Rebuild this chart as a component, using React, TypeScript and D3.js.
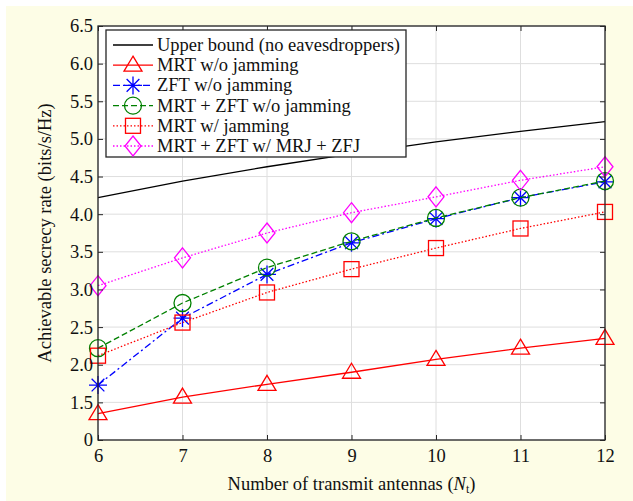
import * as d3 from 'd3'
import { useEffect, useRef } from 'react'

// data
const antennas = [6, 7, 8, 9, 10, 11, 12]
const upperBound = [4.22, 4.44, 4.63, 4.8, 4.96, 5.1, 5.23]
const mrtNoJam = [1.35, 1.57, 1.74, 1.9, 2.07, 2.22, 2.35]
const zftNoJam = [1.73, 2.62, 3.2, 3.62, 3.94, 4.22, 4.43]
const mrtZftNoJam = [2.22, 2.82, 3.29, 3.64, 3.95, 4.22, 4.44]
const mrtJam = [2.12, 2.56, 2.96, 3.27, 3.55, 3.81, 4.03]
const mrtZftJam = [3.05, 3.42, 3.75, 4.02, 4.23, 4.45, 4.63]

const yTickValues = [1, 1.5, 2, 2.5, 3, 3.5, 4, 4.5, 5, 5.5, 6, 6.5]
const yTickLabels = ['0', '1.5', '2.0', '2.5', '3.0', '3.5', '4.0', '4.5', '5.0', '5.5', '6.0', '6.5']

type Marker = 'none' | 'triangle' | 'star' | 'circle' | 'square' | 'diamond'

const series: { name: string; values: number[]; color: string; dash: string; marker: Marker }[] = [
  { name: 'Upper bound (no eavesdroppers)', values: upperBound, color: '#000000', dash: '', marker: 'none' },
  { name: 'MRT w/o jamming', values: mrtNoJam, color: '#ff0000', dash: '', marker: 'triangle' },
  { name: 'ZFT w/o jamming', values: zftNoJam, color: '#0000ff', dash: '7,3,2,3', marker: 'star' },
  { name: 'MRT + ZFT w/o jamming', values: mrtZftNoJam, color: '#008000', dash: '6,3', marker: 'circle' },
  { name: 'MRT w/ jamming', values: mrtJam, color: '#ff0000', dash: '1.5,2', marker: 'square' },
  { name: 'MRT + ZFT w/ MRJ + ZFJ', values: mrtZftJam, color: '#ff00ff', dash: '1.5,2', marker: 'diamond' },
]

const W = 633
const H = 501
const margin = { top: 26, left: 98, right: 28, bottom: 61 }
const font = 'Liberation Serif, Times New Roman, serif'
const fs = 18.5

function drawMarker(g: d3.Selection<SVGGElement, unknown, null, undefined>, type: Marker, x: number, y: number, color: string) {
  const m = g.append('g').attr('transform', `translate(${x},${y})`).attr('fill', 'none').attr('stroke', color).attr('stroke-width', 1.3)
  if (type === 'triangle') m.append('path').attr('d', 'M0,-9 L9,6 L-9,6 Z')
  if (type === 'circle') m.append('circle').attr('r', 8.5)
  if (type === 'square') m.append('rect').attr('x', -7.5).attr('y', -7.5).attr('width', 15).attr('height', 15)
  if (type === 'diamond') m.append('path').attr('d', 'M0,-10 L8,0 L0,10 L-8,0 Z')
  if (type === 'star') {
    const r = 9
    const d = r * 0.707
    m.append('path').attr('d', `M${-r},0L${r},0M0,${-r}L0,${r}M${-d},${-d}L${d},${d}M${-d},${d}L${d},${-d}`)
  }
}

export default function App() {
  const ref = useRef<SVGSVGElement>(null)

  useEffect(() => {
    const svg = d3.select(ref.current)
    svg.selectAll('*').remove()

    const iw = W - margin.left - margin.right
    const ih = H - margin.top - margin.bottom

    svg.append('rect').attr('x', 6).attr('y', 6).attr('width', W - 6).attr('height', H - 6).attr('fill', '#fdfde6')

    const x = d3.scaleLinear().domain([6, 12]).range([margin.left, margin.left + iw])
    const y = d3.scaleLinear().domain([1, 6.5]).range([margin.top + ih, margin.top])

    // plot area
    svg.append('rect').attr('x', margin.left).attr('y', margin.top).attr('width', iw).attr('height', ih).attr('fill', '#ffffff')

    // grid
    const grid = svg.append('g').attr('stroke', '#dedede').attr('stroke-width', 1)
    antennas.forEach((a) => {
      grid.append('line').attr('x1', x(a)).attr('x2', x(a)).attr('y1', margin.top).attr('y2', margin.top + ih)
    })
    yTickValues.forEach((v) => {
      grid.append('line').attr('x1', margin.left).attr('x2', margin.left + iw).attr('y1', y(v)).attr('y2', y(v))
    })

    // lines + markers
    const line = d3
      .line<number>()
      .x((_, i) => x(antennas[i]))
      .y((d) => y(d))

    series.forEach((s) => {
      svg
        .append('path')
        .datum(s.values)
        .attr('d', line)
        .attr('fill', 'none')
        .attr('stroke', s.color)
        .attr('stroke-width', 1.3)
        .attr('stroke-dasharray', s.dash || null)
      if (s.marker !== 'none') {
        const mg = svg.append('g')
        s.values.forEach((v, i) => drawMarker(mg, s.marker, x(antennas[i]), y(v), s.color))
      }
    })

    // axes box
    svg
      .append('rect')
      .attr('x', margin.left)
      .attr('y', margin.top)
      .attr('width', iw)
      .attr('height', ih)
      .attr('fill', 'none')
      .attr('stroke', '#262626')
      .attr('stroke-width', 1.3)

    const xAxis = d3.axisBottom(x).tickValues(antennas).tickSize(-5).tickPadding(9).tickFormat(d3.format('d'))
    const gx = svg.append('g').attr('transform', `translate(0,${margin.top + ih})`).call(xAxis)
    gx.select('.domain').remove()
    gx.selectAll('text').attr('font-family', font).attr('font-size', fs).attr('fill', '#111')
    gx.selectAll('line').attr('stroke', '#262626')

    const xTop = d3.axisTop(x).tickValues(antennas).tickSize(-5).tickFormat(() => '')
    const gxt = svg.append('g').attr('transform', `translate(0,${margin.top})`).call(xTop)
    gxt.select('.domain').remove()
    gxt.selectAll('line').attr('stroke', '#262626')

    const yAxis = d3
      .axisLeft(y)
      .tickValues(yTickValues)
      .tickSize(-5)
      .tickPadding(5)
      .tickFormat((_, i) => yTickLabels[i])
    const gy = svg.append('g').attr('transform', `translate(${margin.left},0)`).call(yAxis)
    gy.select('.domain').remove()
    gy.selectAll('text').attr('font-family', font).attr('font-size', fs).attr('fill', '#111')
    gy.selectAll('line').attr('stroke', '#262626')

    const yRight = d3.axisRight(y).tickValues(yTickValues).tickSize(-5).tickFormat(() => '')
    const gyr = svg.append('g').attr('transform', `translate(${margin.left + iw},0)`).call(yRight)
    gyr.select('.domain').remove()
    gyr.selectAll('line').attr('stroke', '#262626')

    // axis titles
    const xt = svg
      .append('text')
      .attr('x', margin.left + iw / 2)
      .attr('y', 490)
      .attr('text-anchor', 'middle')
      .attr('font-family', font)
      .attr('font-size', fs)
      .attr('fill', '#111')
    xt.append('tspan').text('Number of transmit antennas (')
    xt.append('tspan').attr('font-style', 'italic').text('N')
    xt.append('tspan').attr('font-size', 12).attr('dy', 3).text('t')
    xt.append('tspan').attr('dy', -3).text(')')

    svg
      .append('text')
      .attr('transform', `translate(51,${margin.top + ih / 2}) rotate(-90)`)
      .attr('text-anchor', 'middle')
      .attr('font-family', font)
      .attr('font-size', fs)
      .attr('fill', '#111')
      .text('Achievable secrecy rate (bits/s/Hz)')

    // legend
    const lg = svg.append('g')
    lg.append('rect')
      .attr('x', 106)
      .attr('y', 30)
      .attr('width', 300)
      .attr('height', 127)
      .attr('fill', '#ffffff')
      .attr('stroke', '#262626')
      .attr('stroke-width', 1.3)
    series.forEach((s, i) => {
      const ly = 45 + i * 20.2
      lg.append('line')
        .attr('x1', 113)
        .attr('x2', 153)
        .attr('y1', ly)
        .attr('y2', ly)
        .attr('stroke', s.color)
        .attr('stroke-width', 1.3)
        .attr('stroke-dasharray', s.dash || null)
      if (s.marker !== 'none') drawMarker(lg, s.marker, 133, ly, s.color)
      lg.append('text')
        .attr('x', 157)
        .attr('y', ly + 6)
        .attr('font-family', font)
        .attr('font-size', fs)
        .attr('fill', '#111')
        .text(s.name)
    })
  }, [])

  return (
    <div style={{ position: 'absolute', left: 0, top: 0 }}>
      <svg ref={ref} width={W} height={H} style={{ display: 'block' }} />
    </div>
  )
}
